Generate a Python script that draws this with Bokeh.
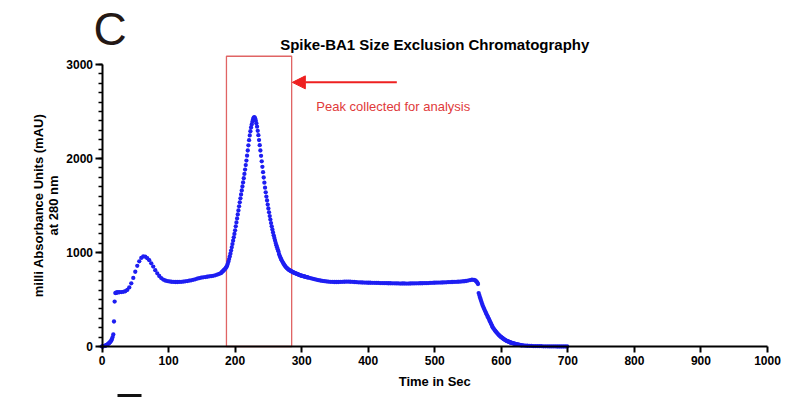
import math
from bokeh.plotting import figure
from bokeh.models import (Range1d, FixedTicker, Label, Arrow, NormalHead, ColumnDataSource)
from bokeh.embed import file_html
from bokeh.resources import INLINE

# ---------------- data (mAU readings, sampled from the trace) ----------------
# segment: (start time s, step s, values)
start_a, step_a = 0, 1
abs_a = [0, 1, 2, 4, 6, 9, 12, 16, 21, 26, 32, 38, 45, 54, 65, 80, 100, 128,
         266, 478, 568, 572, 574, 575, 576]

start_b, step_b = 26, 3
abs_b = [577, 579, 582, 588, 602, 628, 672, 730, 795, 858, 906, 942, 958, 956,
         940, 918, 885, 850, 812, 778, 750, 728, 712, 702, 696, 692, 689, 687,
         686, 686, 687, 688, 690, 693, 696, 700, 704, 709, 715, 721, 727, 732,
         736, 739, 742, 745, 748, 752, 757, 764, 772, 782]

start_c, step_c = 180, 1
abs_c = [790, 797, 804, 811, 818, 826, 835, 846, 860, 880,
         905, 930, 958, 988, 1020, 1055, 1090, 1126, 1162, 1198,
         1236, 1278, 1320, 1362, 1405, 1448, 1491, 1534, 1576, 1618,
         1660, 1702, 1745, 1790, 1836, 1882, 1930, 1978, 2030, 2085,
         2140, 2195, 2245, 2290, 2330, 2362, 2392, 2418, 2435, 2440,
         2428, 2405, 2375, 2338, 2295, 2248, 2196, 2142, 2085, 2028,
         1970, 1912, 1855, 1798, 1743, 1690, 1640, 1595, 1553, 1510,
         1468, 1427, 1388, 1350, 1313, 1278, 1245, 1213, 1183, 1155,
         1128, 1102, 1078, 1055, 1034, 1014, 985, 965, 948, 932,
         917, 903, 890, 878, 867, 857, 848, 840, 833, 826,
         820, 815, 810, 806, 802, 798, 794, 790, 787, 784,
         781, 778, 775, 772, 769, 766, 763, 760, 757, 755,
         753, 751, 749, 747, 745, 743, 741, 739, 737, 735, 733]

start_d, step_d = 313, 3
abs_d = [728, 722, 716, 711, 706, 702, 698, 695, 692, 690, 688, 687, 686, 686,
         686, 687, 688, 689, 690, 690, 689, 688, 686, 684, 683, 682, 681, 680,
         679, 678, 678, 677, 677, 676, 676, 675, 675, 674, 674, 673, 673, 672,
         672, 671, 671, 670, 670, 670, 670, 670, 670, 671, 671, 672, 672, 673,
         673, 674, 674, 675, 676, 677, 678, 679, 680, 680, 681, 682, 683, 684,
         685, 686, 687, 688, 689, 690, 692, 694, 697, 701, 706, 710, 708]

start_e, step_e = 561, 1
abs_e = [702, 696, 688, 678, 665, 568, 545, 522, 500, 478, 457, 436, 419, 403, 387,
         372, 356, 341, 326, 312, 297, 282, 267, 252, 237, 221, 205, 195, 185,
         175, 166, 157, 148, 140, 132, 124, 117, 111, 105, 99, 93, 88, 83, 78,
         73, 68, 64, 60, 57, 54, 51, 48, 45, 42, 40, 37, 35, 33, 31, 29, 27,
         25, 23, 22, 20, 19, 17, 16, 15, 13, 12]

start_f, step_f = 633, 3
abs_f = [11, 9, 8, 7, 6, 5, 4, 4, 3, 3, 2, 2, 2, 1, 1, 1, 1, 0, 0, 0, 0, 0, 0]

segments = [(start_a, step_a, abs_a), (start_b, step_b, abs_b),
            (start_c, step_c, abs_c), (start_d, step_d, abs_d),
            (start_e, step_e, abs_e), (start_f, step_f, abs_f)]

x_ticks = list(range(0, 1001, 100))
y_ticks = [0, 1000, 2000, 3000]
y_minor = list(range(0, 3001, 100))

box_start, box_end, box_top = 187, 285, 3088
arrow_tail, arrow_head, arrow_level = 443, 286, 2810
note_x, note_y = 322, 2553

title_text = "Spike-BA1 Size Exclusion Chromatography"
x_title = "Time in Sec"
y_title_1 = "milli Absorbance Units (mAU)"
y_title_2 = "at 280 nm"
note_text = "Peak collected for analysis"
panel_letter = "C"

# ---------------- layout helpers (the frame fills the canvas; axes sit at 0) ----------------
W, H = 794, 397
X0_PX, X1000_PX = 101.5, 767.0      # where t=0 and t=1000 fall
Y0_PX, Y3000_PX = 346.0, 64.0       # where 0 and 3000 mAU fall
sx = (X1000_PX - X0_PX) / 1000.0
sy = (Y0_PX - Y3000_PX) / 3000.0
def tx(px): return (px - X0_PX) / sx
def vy(py): return (Y0_PX - py) / sy

# ---------------- build ----------------
times, vals = [], []
for s0, st, vv in segments:
    for i, v in enumerate(vv):
        times.append(s0 + st * i)
        vals.append(v)
src = ColumnDataSource(dict(t=times, v=vals))

FONT = "Liberation Sans"
p = figure(width=W, height=H, x_range=Range1d(tx(0), tx(W)), y_range=Range1d(vy(H), vy(0)),
           output_backend="svg", toolbar_location=None,
           min_border_left=0, min_border_right=0, min_border_top=0, min_border_bottom=0)
p.background_fill_color = "white"
p.border_fill_color = "white"
p.outline_line_color = None
p.xgrid.visible = False
p.ygrid.visible = False
p.title.visible = False

for ax in (p.xaxis[0], p.yaxis[0]):
    ax.fixed_location = 0
    ax.axis_line_width = 2
    ax.axis_line_color = "black"
    ax.major_tick_line_width = 2
    ax.major_tick_line_color = "black"
    ax.major_tick_in = 0
    ax.minor_tick_in = 0
    ax.major_label_text_font = FONT
    ax.major_label_text_font_style = "bold"
    ax.major_label_text_font_size = "12px"
    ax.major_label_text_color = "black"

p.xaxis.ticker = FixedTicker(ticks=x_ticks, minor_ticks=[])
p.xaxis.bounds = (0, 1000)
p.xaxis.major_tick_out = 6
p.xaxis.minor_tick_out = 0
p.xaxis.major_label_standoff = 3

p.yaxis.ticker = FixedTicker(ticks=y_ticks, minor_ticks=y_minor)
p.yaxis.bounds = (0, 3000)
p.yaxis.major_tick_out = 7
p.yaxis.minor_tick_out = 4
p.yaxis.minor_tick_line_width = 1.5
p.yaxis.minor_tick_line_color = "black"
p.yaxis.major_label_standoff = 2

# collection window box
p.quad(left=[box_start], right=[box_end], bottom=[0], top=[box_top],
       fill_color=None, line_color="#e06464", line_width=1.3)

# trace
p.scatter("t", "v", source=src, size=4.3, fill_color="#1e1ef2", line_color=None)

# arrow + note
p.add_layout(Arrow(end=NormalHead(size=13, fill_color="#ee2020", line_color="#ee2020"),
                   x_start=arrow_tail, y_start=arrow_level, x_end=arrow_head, y_end=arrow_level,
                   line_color="#ee2020", line_width=2))
p.add_layout(Label(x=note_x, y=note_y, text=note_text, text_color="#e03a3a",
                   text_font=FONT, text_font_size="13px", text_baseline="middle"))

# titles
p.add_layout(Label(x=500, y=vy(44), text=title_text, text_font=FONT, text_font_size="15px",
                   text_font_style="bold", text_color="black", text_align="center",
                   text_baseline="middle"))
p.add_layout(Label(x=500, y=vy(381), text=x_title, text_font=FONT, text_font_size="13px",
                   text_font_style="bold", text_color="black", text_align="center",
                   text_baseline="middle"))
p.add_layout(Label(x=tx(37.5), y=1500, text=y_title_1, angle=math.pi / 2, text_font=FONT,
                   text_font_size="13px", text_font_style="bold", text_color="black",
                   text_align="center", text_baseline="middle"))
p.add_layout(Label(x=tx(53), y=1500, text=y_title_2, angle=math.pi / 2, text_font=FONT,
                   text_font_size="13px", text_font_style="bold", text_color="black",
                   text_align="center", text_baseline="middle"))

# panel letter
p.add_layout(Label(x=tx(93), y=vy(28), text=panel_letter, text_font=FONT,
                   text_font_size="46px", text_color="#231815", text_baseline="alphabetic"))

# fragment of the neighbouring panel at the bottom edge
p.quad(left=[tx(117)], right=[tx(141)], bottom=[vy(397)], top=[vy(393.5)],
       fill_color="#111111", line_color=None)

open("out.html", "w").write(file_html(p, INLINE))
